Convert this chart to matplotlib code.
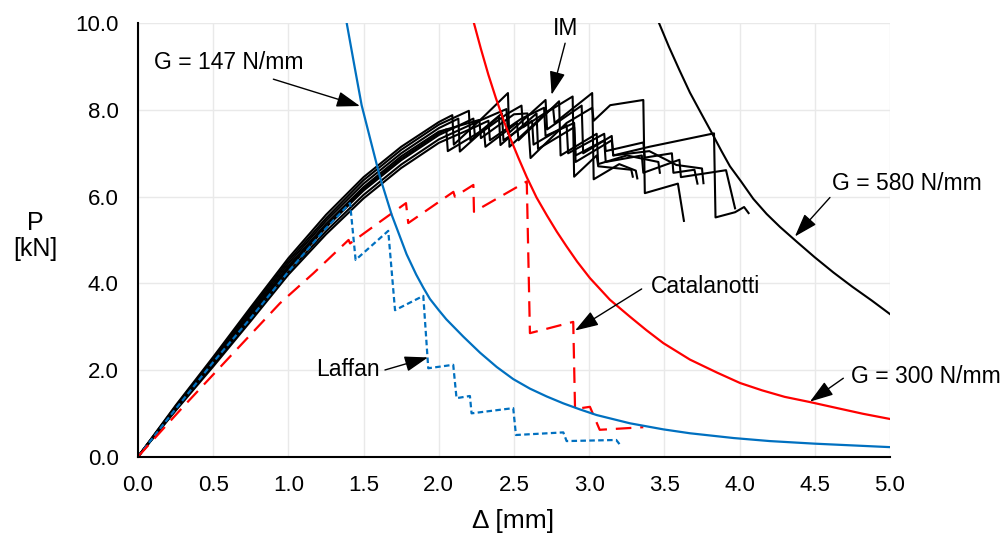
import matplotlib.pyplot as plt
from matplotlib.ticker import FormatStrFormatter

plt.rcParams['font.family'] = ['Liberation Sans', 'DejaVu Sans']

# constant-G curves (delta in mm, P in kN)
g147_d = [1.388, 1.44, 1.487, 1.55, 1.609, 1.687, 1.786, 1.85, 1.897, 1.941, 2.0, 2.05, 2.163, 2.274,
          2.385, 2.495, 2.606, 2.717, 2.828, 2.939, 3.05, 3.271, 3.493, 3.67, 3.96, 4.2, 4.5, 4.75, 5.0]
g147_p = [10.0, 9.0, 8.11, 7.25, 6.45, 5.58, 4.67, 4.2, 3.9, 3.64, 3.38, 3.17, 2.77, 2.40,
          2.07, 1.79, 1.57, 1.39, 1.23, 1.09, 0.96, 0.77, 0.63, 0.54, 0.43, 0.36, 0.30, 0.26, 0.22]

g300_d = [2.234, 2.28, 2.33, 2.38, 2.43, 2.48, 2.53, 2.585, 2.65, 2.72, 2.785, 2.85, 2.92, 3.005,
          3.138, 3.271, 3.38, 3.493, 3.67, 3.85, 4.003, 4.15, 4.3, 4.468, 4.65, 4.82, 5.0]
g300_p = [10.0, 9.41, 8.81, 8.27, 7.77, 7.31, 6.89, 6.45, 5.98, 5.56, 5.19, 4.85, 4.50, 4.12,
          3.62, 3.23, 2.92, 2.62, 2.24, 1.94, 1.70, 1.53, 1.38, 1.26, 1.12, 0.99, 0.87]

g580_d = [3.465, 3.53, 3.6, 3.67, 3.74, 3.814, 3.88, 3.936, 4.01, 4.091, 4.18, 4.269, 4.38, 4.5,
          4.624, 4.75, 4.88, 5.0]
g580_p = [10.0, 9.46, 8.92, 8.4, 7.95, 7.48, 7.05, 6.7, 6.35, 5.95, 5.6, 5.3, 4.96, 4.6,
          4.25, 3.92, 3.6, 3.29]

# Laffan model
laffan_d = [0, 0.25, 0.5, 0.75, 1.0, 1.25, 1.41, 1.447, 1.664, 1.709, 1.897, 1.930, 2.096, 2.118,
            2.207, 2.218, 2.495, 2.513, 2.828, 2.85, 3.18, 3.215]
laffan_p = [0, 1.1, 2.18, 3.2, 4.27, 5.27, 5.85, 4.54, 5.21, 3.38, 3.71, 2.04, 2.12, 1.35,
            1.40, 1.0, 1.12, 0.50, 0.56, 0.36, 0.385, 0.23]

# Catalanotti model
cata_d = [0, 0.3, 0.612, 0.944, 1.166, 1.40, 1.41, 1.609, 1.782, 1.797, 2.097, 2.107, 2.23, 2.234,
          2.585, 2.606, 2.894, 2.906, 3.005, 3.07, 3.36]
cata_p = [0, 1.15, 2.31, 3.54, 4.23, 5.0, 4.92, 5.42, 5.85, 5.39, 6.11, 6.0, 6.27, 5.65,
          6.35, 2.85, 3.11, 1.10, 1.15, 0.62, 0.68]

# IM test curves
rise_d = [0, 0.25, 0.5, 0.75, 1.0, 1.25, 1.5, 1.75, 2.0]

im1_d = rise_d + [2.09, 2.10, 2.30, 2.46, 2.47, 2.72, 2.89, 2.90, 3.05, 3.06, 3.28, 3.29]
im1_p = [0, 1.18, 2.30, 3.45, 4.58, 5.58, 6.45, 7.15, 7.72,
         7.88, 7.20, 7.85, 8.39, 7.15, 7.95, 8.31, 6.46, 6.95, 6.70, 6.62, 6.46]

im2_d = rise_d + [2.27, 2.28, 2.50, 2.59, 2.61, 2.85, 3.02, 3.03, 3.14, 3.36, 3.37, 3.59, 3.63]
im2_p = [0, 1.12, 2.20, 3.30, 4.40, 5.37, 6.22, 6.93, 7.50,
         7.77, 7.35, 7.90, 7.92, 6.89, 7.70, 8.05, 7.75, 8.11, 8.23, 6.08, 6.30, 5.44]

im3_d = rise_d + [2.25, 2.45, 2.46, 2.71, 2.72, 2.95, 2.96, 3.15, 3.16, 3.40, 3.83, 3.84, 3.97, 4.03, 4.06]
im3_p = [0, 1.08, 2.12, 3.18, 4.26, 5.20, 6.04, 6.74, 7.32,
         7.72, 8.02, 7.45, 8.23, 7.55, 8.10, 7.00, 7.40, 6.95, 7.15, 7.46, 5.52, 5.64, 5.76, 5.62]

im4_d = rise_d + [2.25, 2.33, 2.34, 2.55, 2.70, 2.71, 2.90, 2.91, 3.10, 3.11, 3.35, 3.36, 3.60, 3.61, 3.91, 3.97]
im4_p = [0, 1.06, 2.08, 3.13, 4.20, 5.13, 5.96, 6.66, 7.24,
         7.62, 7.75, 7.30, 7.80, 8.05, 7.40, 7.70, 6.95, 7.30, 6.80, 6.95, 6.55, 6.85, 6.45, 6.61, 5.73]

im5_d = rise_d + [2.13, 2.14, 2.40, 2.41, 2.65, 2.66, 2.90, 2.91, 3.15, 3.16, 3.40, 3.58, 3.75, 3.76]
im5_p = [0, 1.14, 2.23, 3.35, 4.46, 5.44, 6.30, 7.00, 7.58,
         7.80, 7.04, 7.85, 7.19, 7.92, 7.10, 7.60, 6.80, 7.30, 6.95, 7.05, 6.73, 6.65, 6.31]

im6_d = rise_d + [2.20, 2.21, 2.45, 2.55, 2.56, 2.76, 2.77, 3.02, 3.03, 3.20, 3.31, 3.32]
im6_p = [0, 1.16, 2.26, 3.40, 4.52, 5.50, 6.38, 7.08, 7.66,
         7.98, 7.30, 7.90, 8.10, 7.60, 8.05, 7.70, 8.39, 6.40, 6.75, 6.60, 6.42]

im7_d = rise_d + [2.23, 2.24, 2.42, 2.43, 2.62, 2.63, 2.85, 2.86, 3.10, 3.11, 3.36, 3.37, 3.55, 3.56, 3.70, 3.72]
im7_p = [0, 1.10, 2.16, 3.24, 4.33, 5.29, 6.14, 6.84, 7.42,
         7.80, 7.40, 7.92, 7.30, 7.75, 7.20, 7.65, 7.00, 7.45, 7.05, 7.25, 6.90, 7.00, 6.55, 6.62, 6.30]

im8_d = rise_d + [2.05, 2.06, 2.30, 2.31, 2.52, 2.53, 2.80, 2.81, 3.05, 3.06, 3.25, 3.46, 3.47]
im8_p = [0, 1.11, 2.18, 3.27, 4.36, 5.32, 6.18, 6.88, 7.46,
         7.55, 7.05, 7.55, 7.15, 7.70, 7.30, 8.20, 6.95, 7.45, 6.75, 6.95, 6.80, 6.55]

im_curves = [(im1_d, im1_p), (im2_d, im2_p), (im3_d, im3_p), (im4_d, im4_p),
             (im5_d, im5_p), (im6_d, im6_p), (im7_d, im7_p), (im8_d, im8_p)]

blue = '#0070C0'
red = '#FF0000'

fig = plt.figure(figsize=(10.08, 5.36), dpi=100)
ax = fig.add_axes([0.1369, 0.148, 0.746, 0.8086])

for d, p in im_curves:
    ax.plot(d, p, color='black', lw=1.5, zorder=2)

ax.plot(laffan_d, laffan_p, color=blue, lw=1.6, dashes=(2.5, 1.5), zorder=3)
ax.plot(cata_d, cata_p, color=red, lw=1.6, dashes=(7, 4), zorder=3)

ax.plot(g147_d, g147_p, color=blue, lw=1.6, zorder=4)
ax.plot(g300_d, g300_p, color=red, lw=1.6, zorder=4)
ax.plot(g580_d, g580_p, color='black', lw=1.5, zorder=4)

ax.set_xlim(0, 5)
ax.set_ylim(0, 10)
ax.set_xticks([0, 0.5, 1.0, 1.5, 2.0, 2.5, 3.0, 3.5, 4.0, 4.5, 5.0])
ax.set_yticks([0, 2, 4, 6, 8, 10])
ax.xaxis.set_major_formatter(FormatStrFormatter('%.1f'))
ax.yaxis.set_major_formatter(FormatStrFormatter('%.1f'))
ax.tick_params(length=0, labelsize=16)
ax.tick_params(axis='x', pad=13)
ax.tick_params(axis='y', pad=14)
ax.grid(True, color='#E9E9E9', lw=1)
ax.set_axisbelow(True)
for s in ['top', 'right']:
    ax.spines[s].set_visible(False)
for s in ['left', 'bottom']:
    ax.spines[s].set_linewidth(1.5)
    ax.spines[s].set_zorder(5)

fig.text(513 / 1008, 1 - 521 / 536, 'Δ [mm]', ha='center', va='center', fontsize=19)
fig.text(35 / 1008, 1 - 236 / 536, 'P\n[kN]', ha='center', va='center', fontsize=18,
         multialignment='center', linespacing=1.1)

arrow = dict(arrowstyle='-|>,head_length=0.9,head_width=0.3', color='black', lw=1,
             mutation_scale=16, shrinkA=0, shrinkB=0)

labels = [
    ('G = 147 N/mm', (0.605, 9.10), (0.90, 8.71), (1.476, 8.09)),
    ('IM', (2.845, 9.87), (2.84, 9.54), (2.75, 8.35)),
    ('G = 580 N/mm', (5.115, 6.31), (4.601, 5.98), (4.368, 5.08)),
    ('Catalanotti', (3.775, 3.92), (3.349, 3.87), (2.906, 2.91)),
    ('G = 300 N/mm', (5.237, 1.86), (4.69, 1.81), (4.468, 1.27)),
    ('Laffan', (1.393, 2.02), (1.642, 2.00), (1.928, 2.29)),
]
for txt, pos, tail, tip in labels:
    ax.text(pos[0], pos[1], txt, ha='center', va='center', fontsize=16.5, clip_on=False, zorder=6)
    ax.annotate('', xy=tip, xytext=tail, arrowprops=arrow, zorder=6)

fig.savefig('out.png', dpi=100)
